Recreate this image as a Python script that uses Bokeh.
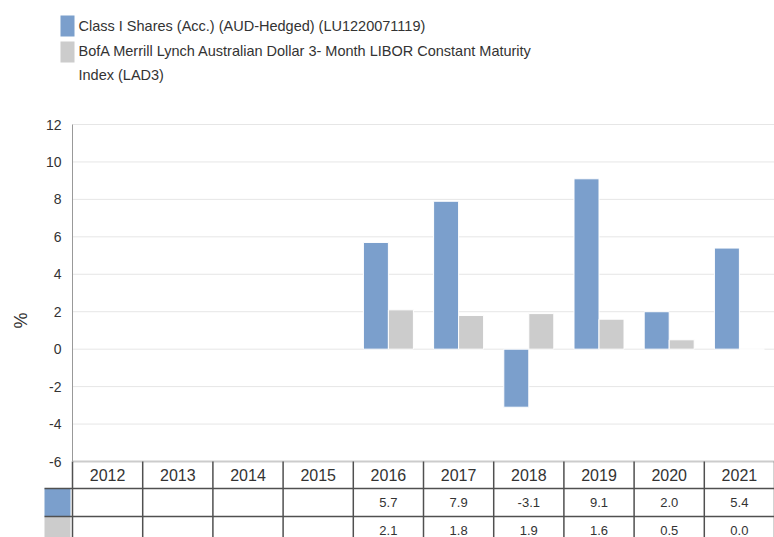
import numpy as np
from bokeh.plotting import figure
from bokeh.models import Range1d, LinearAxis, FixedTicker, PrintfTickFormatter, ColumnDataSource
from bokeh.embed import file_html
from bokeh.resources import INLINE
from bokeh.core.properties import value

# ---------------- data ----------------
years = ["2012", "2013", "2014", "2015", "2016", "2017", "2018", "2019", "2020", "2021"]
fund_returns = [None, None, None, None, 5.7, 7.9, -3.1, 9.1, 2.0, 5.4]
index_returns = [None, None, None, None, 2.1, 1.8, 1.9, 1.6, 0.5, 0.0]
series_names = [
    "Class I Shares (Acc.) (AUD-Hedged) (LU1220071119)",
    "BofA Merrill Lynch Australian Dollar 3- Month LIBOR Constant Maturity\nIndex (LAD3)",
]
series_colors = ["#7b9fcc", "#cccccc"]
y_ticks = [-6, -4, -2, 0, 2, 4, 6, 8, 10, 12]
y_title = "%"

# ---------------- layout constants (pixels) ----------------
FONT = "Liberation Sans"
TXT = "#333333"
W, H = 774, 537
PLOT_L, PLOT_T, PLOT_B = 72, 124, 461
n = len(years)
ppx = (W - PLOT_L) / n                                   # px per category
ppy = (PLOT_B - PLOT_T) / (y_ticks[-1] - y_ticks[0])     # px per % unit


def dx(px):
    return (px - PLOT_L) / ppx


def dy(py):
    return y_ticks[-1] - (py - PLOT_T) / ppy


p = figure(width=W, height=H, output_backend="svg", toolbar_location=None,
           x_range=Range1d(dx(0), dx(W)), y_range=Range1d(dy(H), dy(0)),
           x_axis_location=None, y_axis_location=None,
           min_border_left=0, min_border_right=0, min_border_top=0, min_border_bottom=0)
p.outline_line_color = None
p.grid.visible = False

# ---------------- y axis (fixed at the plot's left edge) ----------------
ya = LinearAxis(fixed_location=0, bounds=(y_ticks[0], y_ticks[-1]),
                ticker=FixedTicker(ticks=y_ticks), formatter=PrintfTickFormatter(format="%d"))
ya.axis_line_color = "#999999"
ya.major_tick_line_color = None
ya.minor_tick_line_color = None
ya.major_label_text_font = FONT
ya.major_label_text_font_size = "14px"
ya.major_label_text_color = TXT
ya.major_label_standoff = 5
p.add_layout(ya, "left")

# axis title (placed like the reference, slightly below the axis centre)
p.text(x=[dx(20)], y=[dy(320)], text=[y_title], angle=np.pi / 2,
       text_font=value(FONT), text_font_size="18px", text_color=TXT,
       text_align="center", text_baseline="middle")

# horizontal grid lines at the tick values
p.segment(x0=[0] * len(y_ticks), y0=y_ticks, x1=[n] * len(y_ticks), y1=y_ticks,
          line_color="#e6e6e6", line_width=1)

# ---------------- bars ----------------
bar_w = 25 / ppx
offs = [-12.5 / ppx, 12.5 / ppx]
for s, vals in enumerate([fund_returns, index_returns]):
    idx = [i for i, v in enumerate(vals) if v is not None]
    src = ColumnDataSource(dict(x=[i + 0.5 + offs[s] for i in idx], top=[vals[i] for i in idx]))
    p.vbar(x="x", top="top", bottom=0, width=bar_w, source=src,
           fill_color=series_colors[s], line_color="white", line_width=1)

# ---------------- legend (top) ----------------
LEG_X0, LEG_X1, LEG_TXT_X = 60, 74, 78
leg_tops = [15, 41]
LINE_H = 22
LEG_FS = 14.5
p.quad(left=[dx(LEG_X0)] * 2, right=[dx(LEG_X1)] * 2,
       top=[dy(t) for t in leg_tops], bottom=[dy(t + 21) for t in leg_tops],
       fill_color=series_colors, line_color=None)
leg_y = []
for t_, name in zip(leg_tops, series_names):
    nl = name.count("\n") + 1
    leg_y.append(dy(t_ + 10.5 + (nl - 1) * LINE_H / 2))
p.text(x=[dx(LEG_TXT_X)] * 2, y=leg_y, text=series_names,
       text_font=value(FONT), text_font_size=f"{LEG_FS}px", text_color=TXT,
       text_align="left", text_baseline="middle", text_line_height=LINE_H / LEG_FS)

# ---------------- data table (bottom) ----------------
ROW_TOP, ROW1, ROW2, ROW_END = 461, 488, 516, 543
SW_L, SW_R = 44, 70
# light top line
p.segment(x0=[0], y0=[dy(ROW_TOP)], x1=[n], y1=[dy(ROW_TOP)], line_color="#cccccc", line_width=2)
# colour swatches
p.quad(left=[dx(SW_L)] * 2, right=[dx(SW_R)] * 2,
       top=[dy(ROW1), dy(ROW2)], bottom=[dy(ROW2), dy(ROW_END)],
       fill_color=series_colors, line_color=None)
# vertical lines
p.segment(x0=list(range(n + 1)), y0=[dy(ROW_TOP)] * (n + 1), x1=list(range(n + 1)), y1=[dy(H)] * (n + 1),
          line_color="#505050", line_width=1.5)
# horizontal row lines
p.segment(x0=[dx(SW_L)] * 2, y0=[dy(ROW1), dy(ROW2)], x1=[n] * 2, y1=[dy(ROW1), dy(ROW2)],
          line_color="#505050", line_width=1.5)

centers = [i + 0.5 for i in range(n)]
p.text(x=centers, y=[dy((ROW_TOP + ROW1) / 2)] * n, text=years,
       text_font=value(FONT), text_font_size="16px", text_color=TXT,
       text_align="center", text_baseline="middle")
row_mid = [dy((ROW1 + ROW2) / 2), dy((ROW2 + ROW_END) / 2)]
for s, vals in enumerate([fund_returns, index_returns]):
    idx = [i for i, v in enumerate(vals) if v is not None]
    p.text(x=[centers[i] for i in idx], y=[row_mid[s]] * len(idx), text=[f"{vals[i]:.1f}" for i in idx],
           text_font=value(FONT), text_font_size="13px", text_color=TXT,
           text_align="center", text_baseline="middle")

open("out.html", "w").write(file_html(p, INLINE))
